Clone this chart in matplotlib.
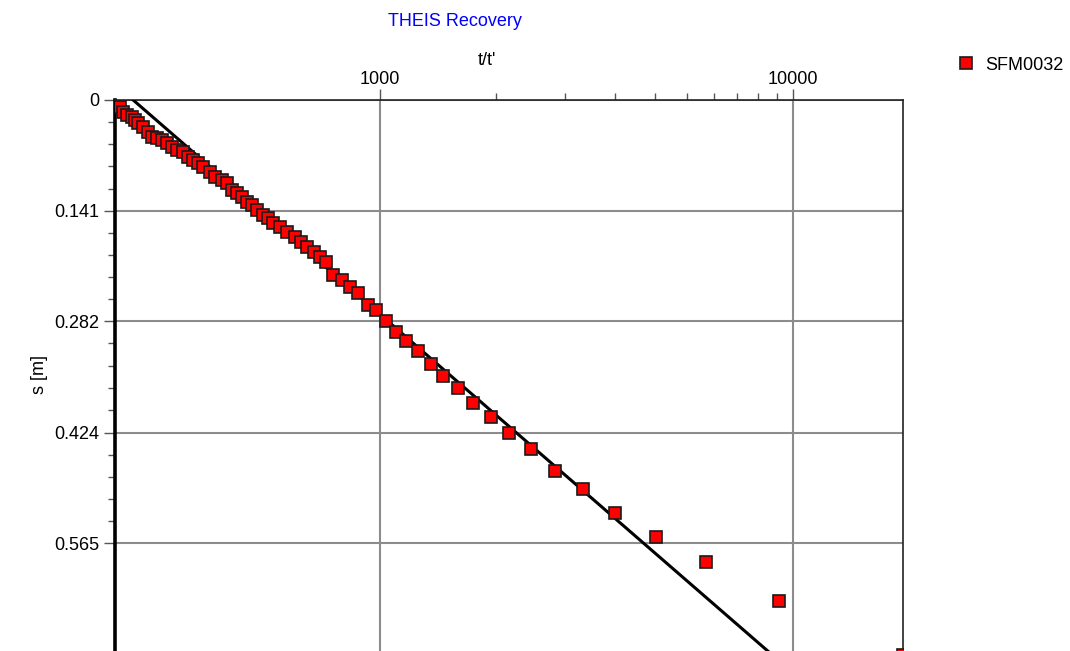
import numpy as np
import matplotlib
matplotlib.use("Agg")
import matplotlib.pyplot as plt
from matplotlib.ticker import FixedLocator, FixedFormatter, NullFormatter

plt.rcParams['font.family'] = ['Liberation Sans', 'DejaVu Sans']

# recovery data, well SFM0032
t_ratio = [234.7, 238.6, 244.0, 250.9, 255.1, 259.4, 266.8, 274.4, 280.5, 288.4,
           296.6, 305.0, 313.6, 322.5, 333.4, 342.8, 352.5, 362.5, 372.7, 387.6,
           398.6, 414.4, 426.1, 438.2, 450.6, 463.4, 476.4, 489.9, 503.7, 520.8,
           535.5, 550.7, 572.6, 595.3, 622.5, 643.7, 665.6, 692.2, 715.6, 739.9,
           769.4, 809.0, 846.0, 884.7, 935.2, 977.9, 1034, 1093, 1156, 1236,
           1329, 1421, 1545, 1680, 1857, 2053, 2321, 2653, 3101, 3707,
           4659, 6157, 9249, 18460]
drawdown = [0.0089, 0.0153, 0.0191, 0.0217, 0.0255, 0.0293, 0.0344, 0.0408, 0.0472, 0.0485,
            0.0510, 0.0548, 0.0599, 0.0638, 0.0663, 0.0727, 0.0765, 0.0804, 0.0855, 0.0918,
            0.0982, 0.1020, 0.1059, 0.1148, 0.1186, 0.1237, 0.1301, 0.1339, 0.1403, 0.1467,
            0.1505, 0.1569, 0.1620, 0.1684, 0.1747, 0.1811, 0.1875, 0.1939, 0.2002, 0.2066,
            0.2232, 0.2296, 0.2385, 0.2462, 0.2615, 0.2678, 0.2819, 0.2959, 0.3074, 0.3201,
            0.3367, 0.3520, 0.3673, 0.3864, 0.4043, 0.4247, 0.4451, 0.4732, 0.4961, 0.5267,
            0.5573, 0.5892, 0.6390, 0.7079]

# straight-line Theis fit
fit_t = [252.5, 11040]
fit_s = [0.0, 0.75]

x_major = [1000, 10000]
x_labels = ['1000', '10000']
x_minor = [1905, 2810, 3715, 4620, 5525, 6430, 7335, 8240, 9145]
y_major = [0, 0.141, 0.282, 0.424, 0.565]
y_labels = ['0', '0.141', '0.282', '0.424', '0.565']

W, H = 1070, 651
fig = plt.figure(figsize=(W / 100, H / 100), dpi=100)
ax = fig.add_axes([115 / W, -3 / H, (903 - 115) / W, (654 - 100) / H])

ax.set_xscale('log')
ax.set_xlim(228.2, 18460)
ax.set_ylim(0.7062, 0)

ax.plot(fit_t, fit_s, color='black', lw=2.2, zorder=3)
ax.plot(t_ratio, drawdown, ls='none', marker='s', ms=9, mfc='#ff0000',
        mec='#1a1a1a', mew=1.2, zorder=4, label='SFM0032')

# top x axis
ax.xaxis.tick_top()
ax.xaxis.set_label_position('top')
ax.xaxis.set_major_locator(FixedLocator(x_major))
ax.xaxis.set_minor_locator(FixedLocator(x_minor))
ax.xaxis.set_major_formatter(FixedFormatter(x_labels))
ax.xaxis.set_minor_formatter(NullFormatter())
ax.set_xlabel("t/t'", fontsize=13)
ax.xaxis.set_label_coords(0.472, 1.072)
ax.xaxis.label.set_va('center')

ax.yaxis.set_major_locator(FixedLocator(y_major))
ax.yaxis.set_major_formatter(FixedFormatter(y_labels))
y_min = [y_major[i] + k * 0.14125 / 5 for i in range(4) for k in range(1, 5)]
ax.yaxis.set_minor_locator(FixedLocator(y_min))

ax.tick_params(which='major', length=8, width=1, color='#555555', labelsize=13)
ax.tick_params(axis='y', which='major', pad=3)
ax.tick_params(axis='x', which='major', pad=1)
ax.tick_params(which='minor', length=5, width=1, color='#555555')

ax.grid(True, which='major', color='#8c8c8c', lw=1.5, zorder=1)

for side in ['top', 'right', 'bottom']:
    ax.spines[side].set_linewidth(1.2)
    ax.spines[side].set_color('#222222')
ax.spines['left'].set_linewidth(2.6)
ax.spines['left'].set_color('black')

fig.text(455 / W, 1 - 22 / H, 'THEIS Recovery', color='#0000ff', fontsize=13,
         ha='center', va='center')
fig.text(40 / W, 1 - 375 / H, 's [m]', fontsize=13, rotation=90,
         ha='center', va='center')

fig.legend(loc='center left', bbox_to_anchor=(957 / W, 1 - 65 / H), frameon=False,
           fontsize=13, handlelength=1.0, handletextpad=0.55, borderaxespad=0,
           borderpad=0, markerscale=0.9)

fig.savefig('out.png', dpi=100)
